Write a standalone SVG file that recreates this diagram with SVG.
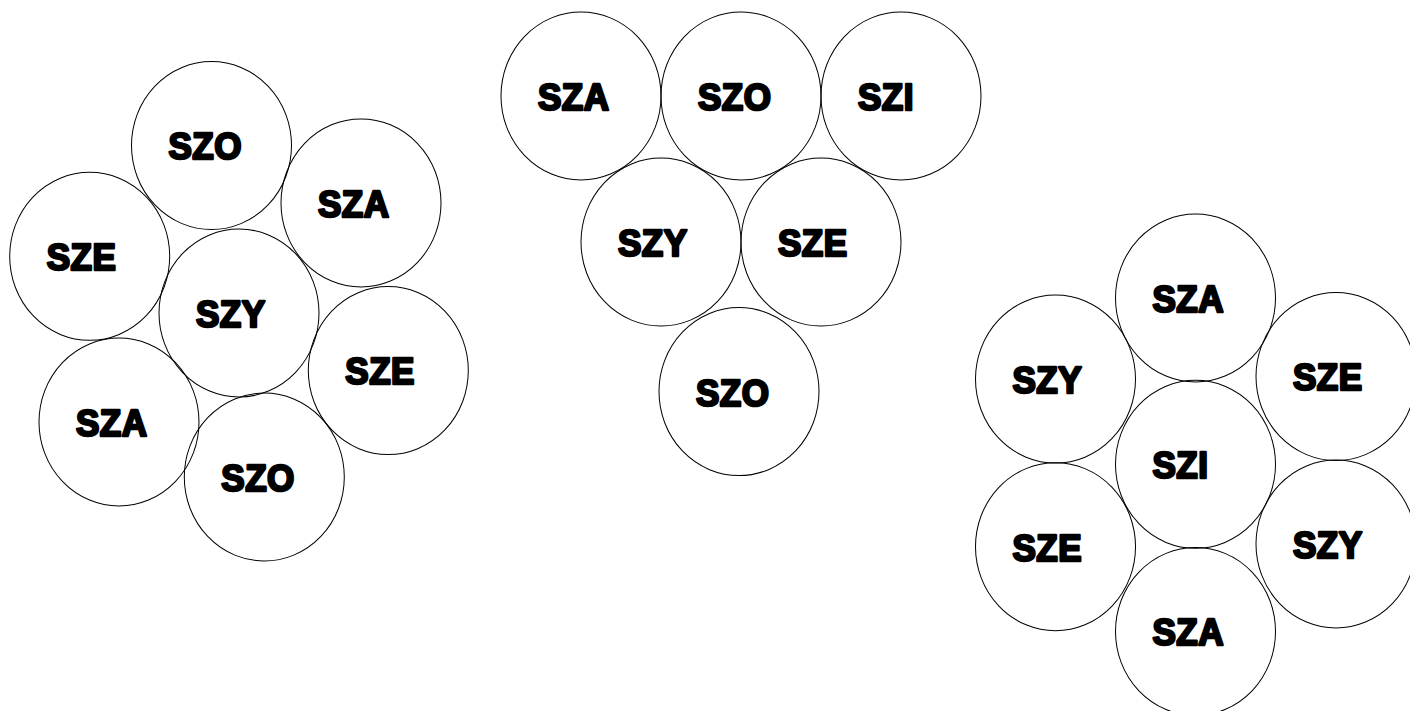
<svg xmlns="http://www.w3.org/2000/svg" width="1410" height="711" viewBox="0 0 1410 711">
<style>
.c{fill:none;stroke:#000;stroke-width:1}
.t{font-family:"Liberation Sans",Arial,sans-serif;font-weight:bold;font-size:35px;fill:#000;stroke:#000;stroke-width:2.4;stroke-linejoin:round;letter-spacing:0.5px}
</style>
<rect width="1410" height="711" fill="#fff"/>
<g transform="scale(1,1.05)">
<g id="connectors"/>
<g id="L1"><circle class="c" cx="211.5" cy="138.6" r="80"/><text class="t" x="168.5" y="151.9">SZO</text></g>
<g id="L2"><circle class="c" cx="361" cy="193.3" r="80"/><text class="t" x="318" y="206.6">SZA</text></g>
<g id="L3"><circle class="c" cx="89.7" cy="244.1" r="80"/><text class="t" x="46.7" y="257.4">SZE</text></g>
<g id="L4"><circle class="c" cx="239" cy="298.1" r="80"/><text class="t" x="196" y="311.4">SZY</text></g>
<g id="L5"><circle class="c" cx="388.3" cy="352.9" r="80"/><text class="t" x="345.3" y="366.2">SZE</text></g>
<g id="L6"><circle class="c" cx="119" cy="401.9" r="80"/><text class="t" x="76" y="415.2">SZA</text></g>
<g id="L7"><circle class="c" cx="264.3" cy="454.3" r="80"/><text class="t" x="221.3" y="467.6">SZO</text></g>
<g id="M1"><circle class="c" cx="581" cy="91.4" r="80"/><text class="t" x="538" y="104.7">SZA</text></g>
<g id="M2"><circle class="c" cx="741" cy="91.4" r="80"/><text class="t" x="698" y="104.7">SZO</text></g>
<g id="M3"><circle class="c" cx="901" cy="91.4" r="80"/><text class="t" x="858" y="104.7">SZI</text></g>
<g id="M4"><circle class="c" cx="661" cy="230.5" r="80"/><text class="t" x="618" y="243.8">SZY</text></g>
<g id="M5"><circle class="c" cx="821" cy="230.5" r="80"/><text class="t" x="778" y="243.8">SZE</text></g>
<g id="M6"><circle class="c" cx="739" cy="372.9" r="80"/><text class="t" x="696" y="386.2">SZO</text></g>
<g id="R1"><circle class="c" cx="1195.5" cy="283.8" r="80"/><text class="t" x="1152.5" y="297.1">SZA</text></g>
<g id="R2"><circle class="c" cx="1055.5" cy="361" r="80"/><text class="t" x="1012.5" y="374.3">SZY</text></g>
<g id="R3"><circle class="c" cx="1336" cy="358.6" r="80"/><text class="t" x="1293" y="371.9">SZE</text></g>
<g id="R4"><circle class="c" cx="1195.5" cy="442.2" r="80"/><text class="t" x="1152.5" y="455.5">SZI</text></g>
<g id="R5"><circle class="c" cx="1055.5" cy="520.7" r="80"/><text class="t" x="1012.5" y="534">SZE</text></g>
<g id="R6"><circle class="c" cx="1336" cy="518.1" r="80"/><text class="t" x="1293" y="531.4">SZY</text></g>
<g id="R7"><circle class="c" cx="1195.5" cy="601.4" r="80"/><text class="t" x="1152.5" y="614.7">SZA</text></g>
</g>
</svg>
